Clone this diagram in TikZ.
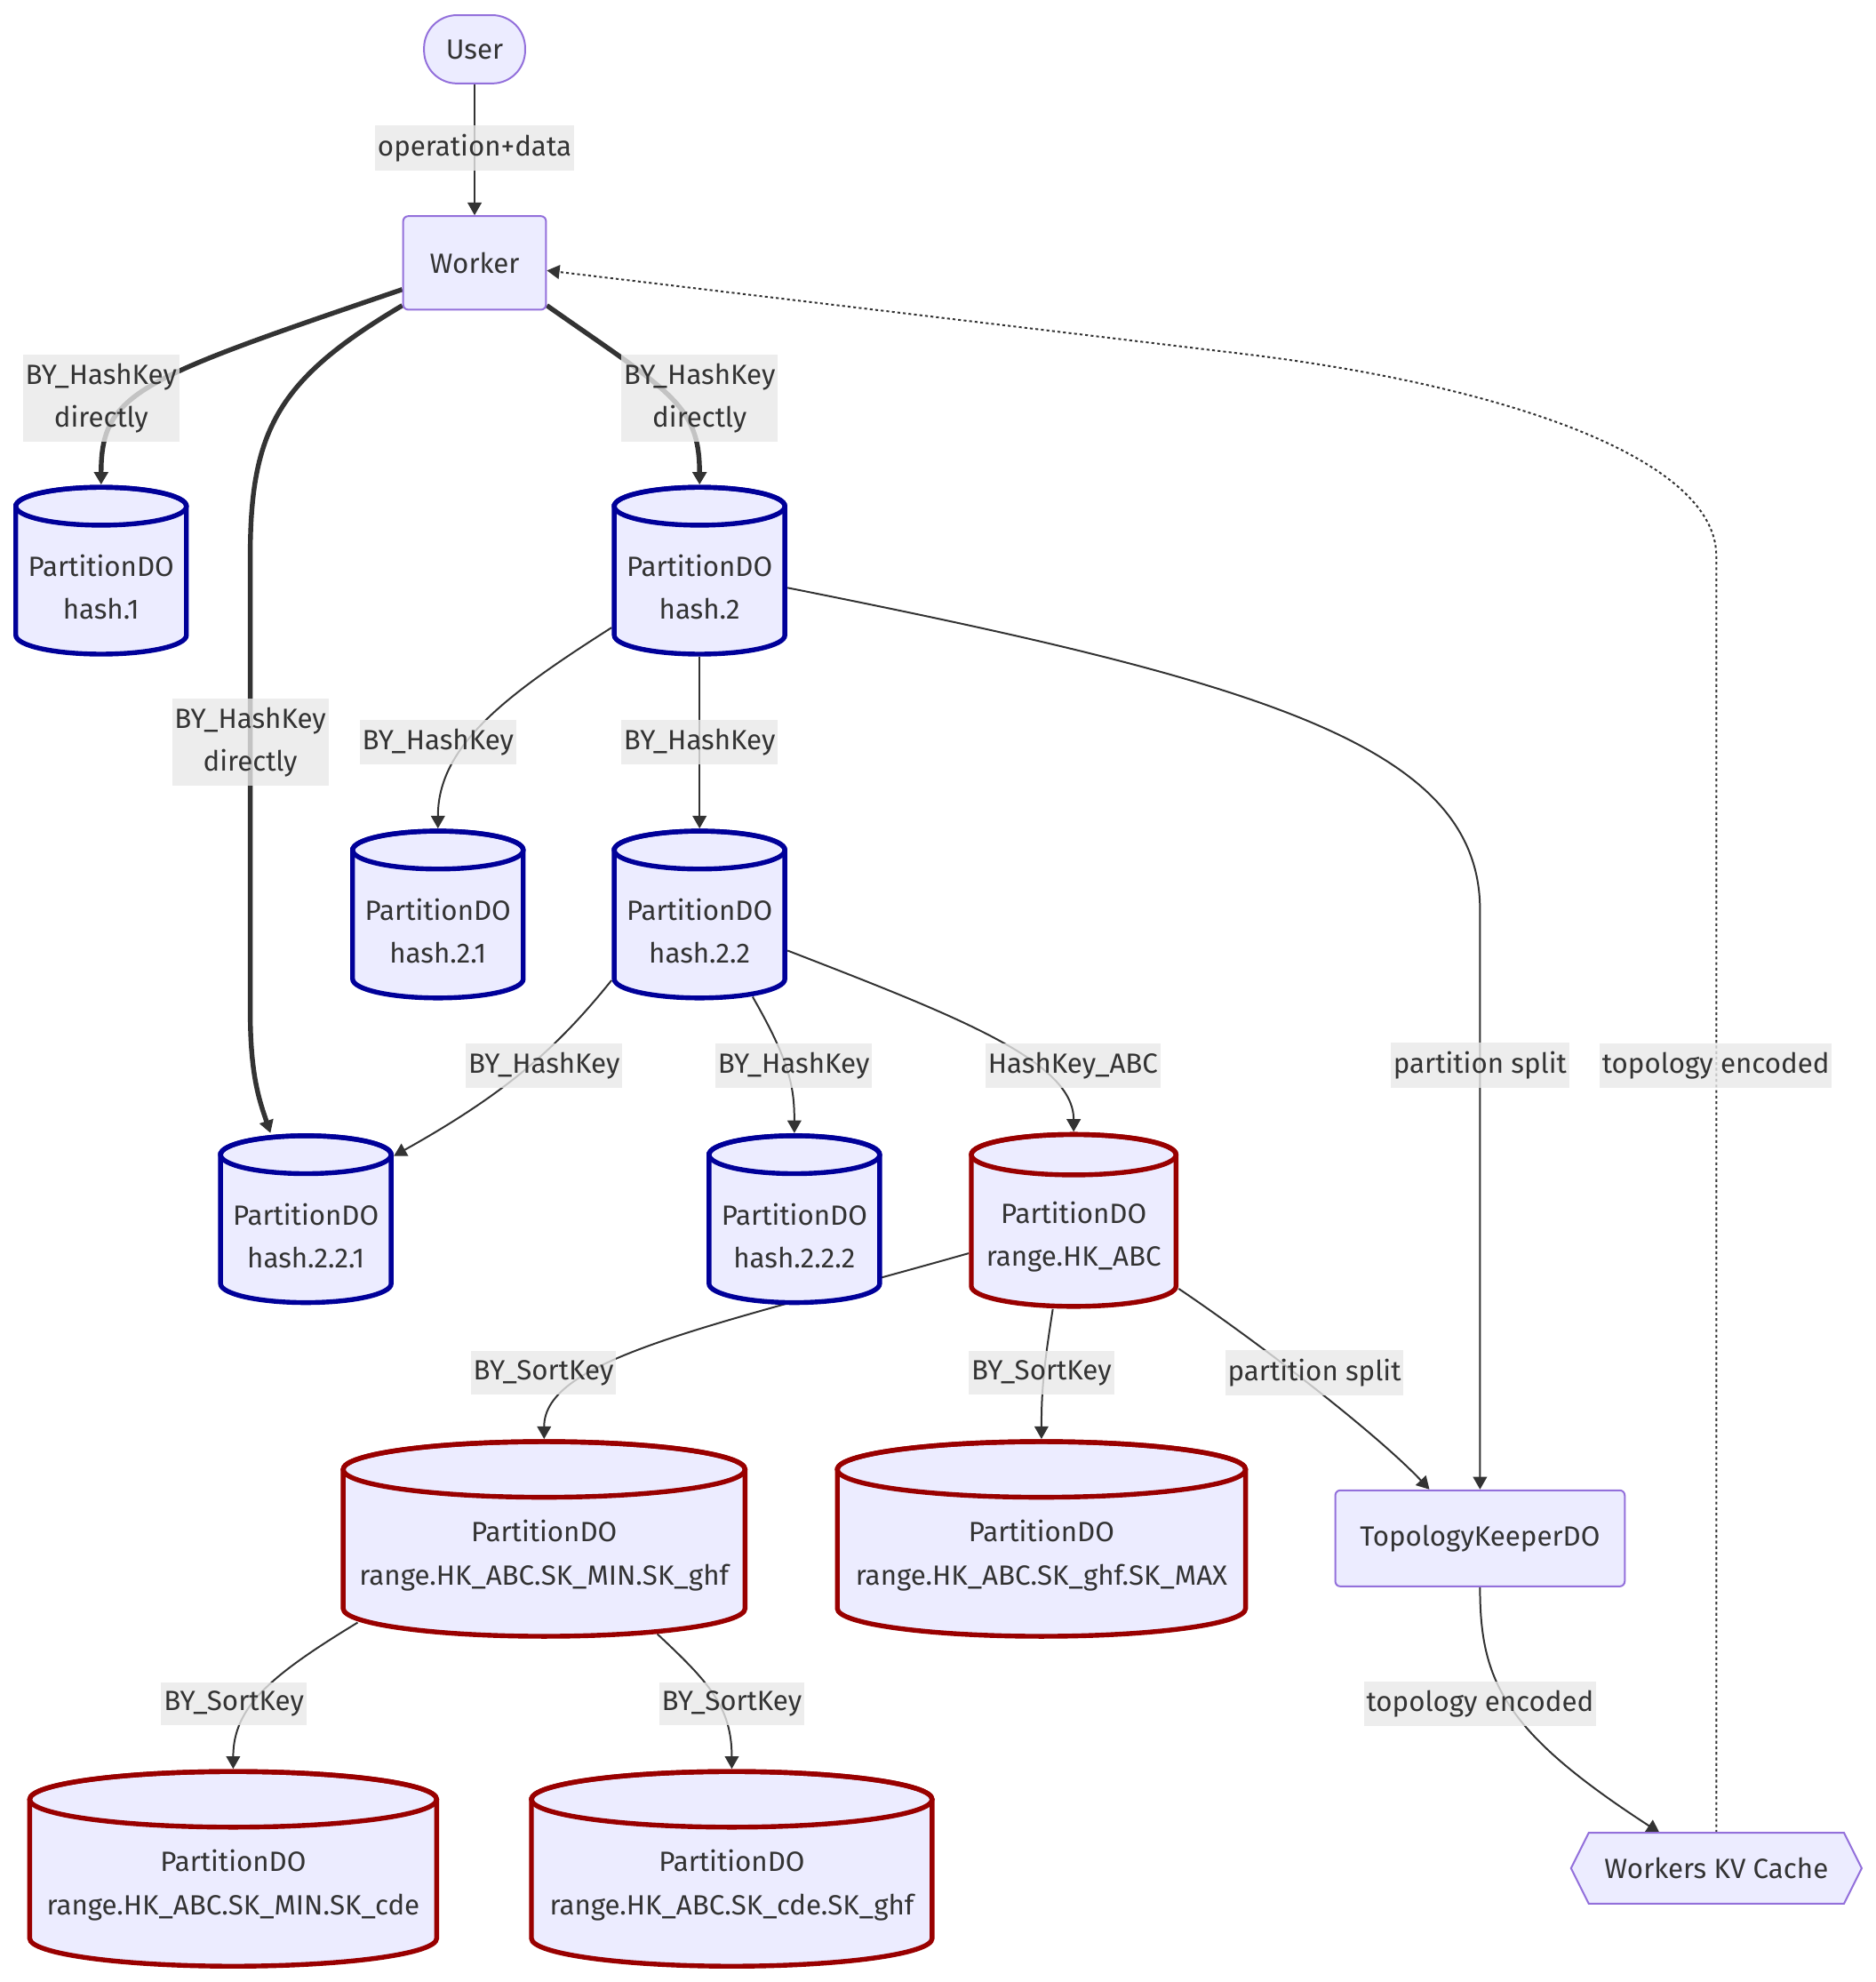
\documentclass[tikz,border=0pt]{standalone}
\usepackage{fontspec}
\setmainfont{Fira Sans}
\usepackage{tikz}
\usetikzlibrary{arrows.meta,calc,positioning}
\definecolor{nodefill}{HTML}{ECECFF}
\definecolor{nodeline}{HTML}{9370DB}
\definecolor{hashblue}{HTML}{000099}
\definecolor{rangered}{HTML}{990000}
\definecolor{edgegray}{HTML}{333333}
\definecolor{labelgray}{HTML}{E8E8E8}
\pgfdeclarelayer{edgelayer}
\pgfsetlayers{edgelayer,main}

\begin{document}
\begin{tikzpicture}[x=1bp,y=-1bp,
    every node/.style={font=\fontsize{22bp}{34bp}\selectfont, text=edgegray},
    proc/.style={draw=nodeline, fill=nodefill, line width=1.4bp, rounded corners=4bp, inner sep=0pt},
    cylbox/.style={inner sep=0pt},
    cyltext/.style={align=center, inner sep=0pt},
    lbl/.style={fill=labelgray, fill opacity=0.8, text opacity=1, inner xsep=2bp, inner ysep=7bp, align=center},
    link/.style={draw=edgegray, line width=1.4bp, -{Triangle[length=10bp,width=11bp]}},
    fatlink/.style={link, line width=3.8bp},
    dotlink/.style={link, dash pattern=on 2.2bp off 2.2bp}]
    \useasboundingbox (0,0) rectangle (1484,1568);

    % plain boxes
    \node[proc, rounded corners=26bp, minimum width=80bp, minimum height=54bp] (user) at (375.5,39) {User};
    \node[proc, minimum width=113bp, minimum height=74bp] (worker) at (375.5,208) {Worker};
    \node[proc, minimum width=229bp, minimum height=76bp] (topo) at (1171,1217) {TopologyKeeperDO};
    \filldraw[fill=nodefill, draw=nodeline, line width=1.4bp]
        (1257,1450) -- (1459,1450) -- (1473,1478) -- (1459,1506) -- (1257,1506) -- (1243,1478) -- cycle;
    \node[inner sep=0pt, minimum width=202bp, minimum height=56bp] (kv) at (1358,1478) {Workers KV Cache};

    % partition cylinders
    \foreach \nm/\cx/\ty/\cylw/\cylh/\ry/\col/\txt in {
        h1/80/385.5/135/132/15/hashblue/{PartitionDO\\hash.1},
        h2/553.5/385.5/135/132/15/hashblue/{PartitionDO\\hash.2},
        h21/346.5/657.5/135/132/15/hashblue/{PartitionDO\\hash.2.1},
        h22/553.5/657.5/135/132/15/hashblue/{PartitionDO\\hash.2.2},
        h221/242/898.5/135/132/15/hashblue/{PartitionDO\\hash.2.2.1},
        h222/628.5/898.5/135/132/15/hashblue/{PartitionDO\\hash.2.2.2},
        rhk/849.5/897.5/162/136/16/rangered/{PartitionDO\\range.HK\_ABC},
        rmin/430.5/1140.5/318/154/22/rangered/{PartitionDO\\range.HK\_ABC.SK\_MIN.SK\_ghf},
        rmax/824/1140.5/323/154/22/rangered/{PartitionDO\\range.HK\_ABC.SK\_ghf.SK\_MAX},
        rcde/184.5/1401.5/322/154/22/rangered/{PartitionDO\\range.HK\_ABC.SK\_MIN.SK\_cde},
        rghf/579/1401.5/317/154/22/rangered/{PartitionDO\\range.HK\_ABC.SK\_cde.SK\_ghf}} {
        \pgfmathsetmacro\xl{\cx-\cylw/2}
        \pgfmathsetmacro\xr{\cx+\cylw/2}
        \pgfmathsetmacro\rx{\cylw/2}
        \pgfmathsetmacro\ya{\ty+\ry}
        \pgfmathsetmacro\yb{\ty+\cylh-\ry}
        \pgfmathsetmacro\cy{\ty+\cylh/2}
        \filldraw[fill=nodefill, draw=\col, line width=3.8bp]
            (\xl,\ya) -- (\xl,\yb) arc[start angle=180, end angle=0, x radius=\rx, y radius=\ry]
            -- (\xr,\ya) arc[start angle=0, end angle=-180, x radius=\rx, y radius=\ry] -- cycle;
        \draw[draw=\col, line width=3.8bp] (\cx,\ya) ellipse[x radius=\rx, y radius=\ry];
        \node[cylbox, minimum width=\cylw bp+3.8bp, minimum height=\cylh bp+3.8bp] (\nm) at (\cx,\cy) {};
        \node[cyltext] (\nm t) at ([yshift=-13bp]\nm.center) {\txt};
    }

    % connectors
    \begin{pgfonlayer}{edgelayer}
    \draw[link] (user) -- (worker);
    \draw[fatlink] ([yshift=-21bp]worker.west) .. controls (110,300) and (80,310) .. (h1.north);
    \draw[fatlink] ([yshift=4bp]worker.south west) .. controls (220,300) and (198,340) .. (198,440)
        -- (198,800) .. controls (198,850) and (205,870) .. ([xshift=-28bp]h221.north);
    \draw[fatlink] ([yshift=4bp]worker.south east) .. controls (530,310) and (553.5,320) .. (h2.north);
    \draw[link] ([yshift=-45bp]h2.west) .. controls (400,550) and (346.5,590) .. (h21.north);
    \draw[link] (h2) -- (h22);
    \draw[link] ([yshift=-13.5bp]h2.east) .. controls (1000,540) and (1171,590) .. (1171,720) -- (topo.north);
    \draw[link] ([yshift=-52bp]h22.west) .. controls (440,830) and (400,865) .. ([yshift=50bp]h221.east);
    \draw[link] ([xshift=42bp,yshift=3bp]h22.south) .. controls (625,840) and (628.5,860) .. (h222.north);
    \draw[link] ([yshift=-28.5bp]h22.east) .. controls (760,805) and (849.5,840) .. (rhk.north);
    \draw[link] ([yshift=-26bp]rhk.west) .. controls (560,1050) and (430.5,1075) .. (rmin.north);
    \draw[link] ([xshift=-16.5bp]rhk.south) .. controls (826,1080) and (824,1100) .. (rmax.north);
    \draw[link] ([yshift=-54bp]rhk.east) .. controls (1000,1065) and (1090,1135) .. ([xshift=-40bp]topo.north);
    \draw[link] ([xshift=-147.5bp,yshift=13bp]rmin.south) .. controls (215,1325) and (184.5,1350) .. (rcde.north);
    \draw[link] ([xshift=89.5bp,yshift=4bp]rmin.south) .. controls (560,1330) and (579,1350) .. (rghf.north);
    \draw[link] (topo.south) .. controls (1171,1330) and (1190,1370) .. ([xshift=-45bp]kv.north);
    \draw[dotlink] (kv.north) -- (1358,440) .. controls (1358,360) and (1180,303.5) .. (984,280)
        -- ([yshift=-6bp]worker.east);
    \end{pgfonlayer}

    % connector labels
    \node[lbl] (lopdata) at (375.5,117) {operation+data};
    \node[lbl] (lhone) at (80,315) {BY\_HashKey\\directly};
    \node[lbl] (lhtwo) at (553.5,315) {BY\_HashKey\\directly};
    \node[lbl] (lhdeep) at (198,587) {BY\_HashKey\\directly};
    \node[lbl] (lhtwoone) at (346.5,587) {BY\_HashKey};
    \node[lbl] (lhtwotwo) at (553.5,587) {BY\_HashKey};
    \node[lbl] (lsplitone) at (1171,843) {partition split};
    \node[lbl] (ltopoone) at (1357.5,843) {topology encoded};
    \node[lbl] (lhkone) at (430.5,843) {BY\_HashKey};
    \node[lbl] (lhktwo) at (628,843) {BY\_HashKey};
    \node[lbl] (lhkabc) at (849,843) {HashKey\_ABC};
    \node[lbl] (lskmin) at (430,1086) {BY\_SortKey};
    \node[lbl] (lskmax) at (824,1086) {BY\_SortKey};
    \node[lbl] (lsplittwo) at (1040,1086) {partition split};
    \node[lbl] (lskcde) at (185,1348) {BY\_SortKey};
    \node[lbl] (lskghf) at (579,1348) {BY\_SortKey};
    \node[lbl] (ltopotwo) at (1171,1348) {topology encoded};
\end{tikzpicture}
\end{document}
